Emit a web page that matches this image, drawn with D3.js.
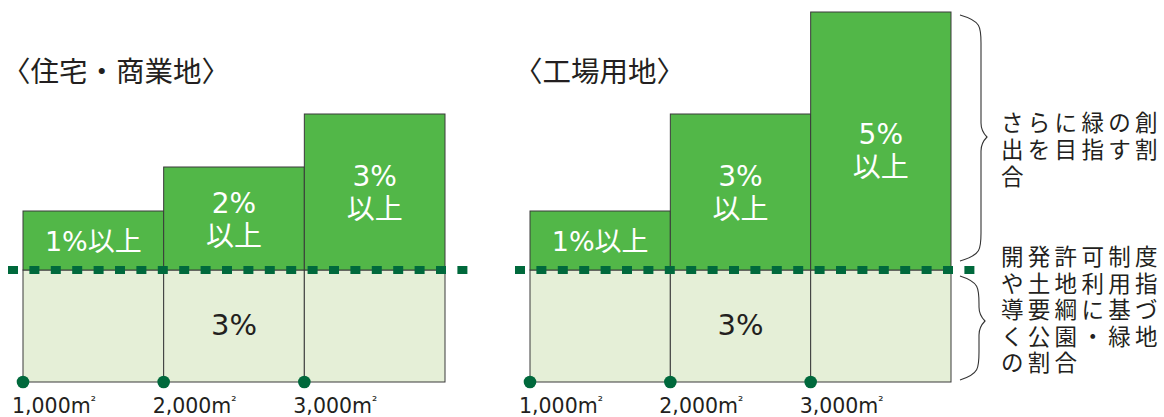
<!DOCTYPE html>
<html><head><meta charset="utf-8">
<script src="https://cdn.jsdelivr.net/npm/d3@7"></script>
<style>html,body{margin:0;padding:0;background:#fff;}svg{display:block;}</style>
</head><body>
<svg id="chart" width="1164" height="417"></svg>
<script>
// ---- data ----
const panelTitles = ["〈住宅・商業地〉", "〈工場用地〉"];
const areaLabels = ["1,000m²", "2,000m²", "3,000m²"];
const baseRate = [3, 3, 3];
const extraResidential = [1, 2, 3];
const extraIndustrial = [1, 3, 5];
const baseLabel = "3%";
const noteUpper = ["さらに緑の創", "出を目指す割", "合"];
const noteLower = ["開発許可制度", "や土地利用指", "導要綱に基づ", "く公園・緑地", "の割合"];

// ---- styles ----
const GREEN = "#52b748", LIGHT = "#e5efd7", DARK = "#00693c", INK = "#231f20";
const SANS = "'DejaVu Sans','Noto Sans CJK JP',sans-serif";
const CJK = "'Noto Sans CJK JP',sans-serif";

const svg = d3.select("#chart");

// schematic (non-linear) vertical scale: base band 0-3%, extra band above
const y = d3.scaleLinear().domain([0, 3, 4, 5, 6, 8]).range([382, 270, 211, 167, 114, 12]);

const panels = [
  {title: panelTitles[0], extra: extraResidential, x: d3.scaleLinear().domain([0, 3]).range([23, 445]), dash: [8, 468], tx: 2},
  {title: panelTitles[1], extra: extraIndustrial, x: d3.scaleLinear().domain([0, 3]).range([530, 951]), dash: [515, 975], tx: 514}
];

panels.forEach(p => {
  const g = svg.append("g");
  const cols = d3.range(baseRate.length);

  // title
  g.append("text").attr("x", p.tx).attr("y", 82)
    .attr("font-family", CJK).attr("font-size", 28.5).attr("fill", INK)
    .text(p.title);

  // base bars
  g.selectAll("rect.base").data(cols).join("rect").attr("class", "base")
    .attr("x", i => p.x(i)).attr("width", i => p.x(i + 1) - p.x(i))
    .attr("y", i => y(baseRate[i])).attr("height", i => y(0) - y(baseRate[i]))
    .attr("fill", LIGHT).attr("stroke", "#3a3a3a").attr("stroke-width", 1);

  // extra bars
  g.selectAll("rect.extra").data(cols).join("rect").attr("class", "extra")
    .attr("x", i => p.x(i)).attr("width", i => p.x(i + 1) - p.x(i))
    .attr("y", i => y(baseRate[i] + p.extra[i])).attr("height", i => y(baseRate[i]) - y(baseRate[i] + p.extra[i]))
    .attr("fill", GREEN).attr("stroke", "#3a3a3a").attr("stroke-width", 1);

  // extra labels
  cols.forEach(i => {
    const cx = (p.x(i) + p.x(i + 1)) / 2;
    const top = y(baseRate[i] + p.extra[i]), bot = y(baseRate[i]);
    const cy = (top + bot) / 2;
    if (i === 0) {
      g.append("text").attr("text-anchor", "middle").attr("fill", "#fff")
        .attr("font-family", SANS).attr("font-size", 27)
        .attr("x", cx).attr("y", cy + 10).text(p.extra[i] + "%以上");
    } else {
      const off = (i === 2 && p.extra[i] === 5) ? 9 : 0;
      g.append("text").attr("text-anchor", "middle").attr("fill", "#fff")
        .attr("font-family", SANS).attr("font-size", 28)
        .attr("x", cx).attr("y", cy - 6 + off).text(p.extra[i] + "%");
      g.append("text").attr("text-anchor", "middle").attr("fill", "#fff")
        .attr("font-family", CJK).attr("font-size", 28)
        .attr("x", cx).attr("y", cy + 27 + off).text("以上");
    }
  });

  // base label
  g.append("text").attr("x", (p.x(1) + p.x(2)) / 2).attr("y", (y(0) + y(3)) / 2 + 9)
    .attr("text-anchor", "middle").attr("font-family", SANS).attr("font-size", 29).attr("fill", INK)
    .text(baseLabel);

  // dashed line at base rate
  g.append("line").attr("x1", p.dash[0]).attr("x2", p.dash[1]).attr("y1", y(3)).attr("y2", y(3))
    .attr("stroke", DARK).attr("stroke-width", 8).attr("stroke-dasharray", "10,11.4");

  // dots and area labels
  g.selectAll("circle").data(cols).join("circle")
    .attr("cx", i => p.x(i)).attr("cy", y(0)).attr("r", 6.3).attr("fill", DARK);
  g.selectAll("text.area").data(cols).join("text").attr("class", "area")
    .attr("x", i => p.x(i) - 11).attr("y", 413)
    .attr("font-family", SANS).attr("font-size", 20.5).attr("fill", INK)
    .each(function(i) {
      const s = areaLabels[i];
      d3.select(this).append("tspan").text(s.slice(0, -1));
      d3.select(this).append("tspan").attr("font-size", 13).attr("dy", -8).text(s.slice(-1));
    });
});

// braces
function brace(x0, y0, y1, w, tipY) {
  const xm = x0 + w, xt = x0 + w + 6;
  return `M${x0},${y0} C${xm},${y0 + 6} ${xm},${y0 + 12} ${xm},${y0 + 28}` +
    ` L${xm},${tipY - 14} C${xm},${tipY - 6} ${xt - 2},${tipY - 2} ${xt},${tipY}` +
    ` C${xt - 2},${tipY + 2} ${xm},${tipY + 6} ${xm},${tipY + 14}` +
    ` L${xm},${y1 - 28} C${xm},${y1 - 12} ${xm},${y1 - 6} ${x0},${y1}`;
}
svg.append("path").attr("d", brace(960, 15, 261, 21, 137))
  .attr("fill", "none").attr("stroke", "#333").attr("stroke-width", 1.1);
svg.append("path").attr("d", brace(960, 276, 380, 19, 321))
  .attr("fill", "none").attr("stroke", "#333").attr("stroke-width", 1.1);

// notes
function note(lines, y0, lh) {
  svg.append("g").selectAll("text").data(lines).join("text")
    .attr("x", 1001).attr("y", (d, i) => y0 + i * lh)
    .attr("font-family", CJK).attr("font-size", 22.5).attr("letter-spacing", 4.3).attr("fill", INK)
    .text(d => d);
}
note(noteUpper, 131, 27);
note(noteLower, 265, 26.5);
</script>
</body></html>
